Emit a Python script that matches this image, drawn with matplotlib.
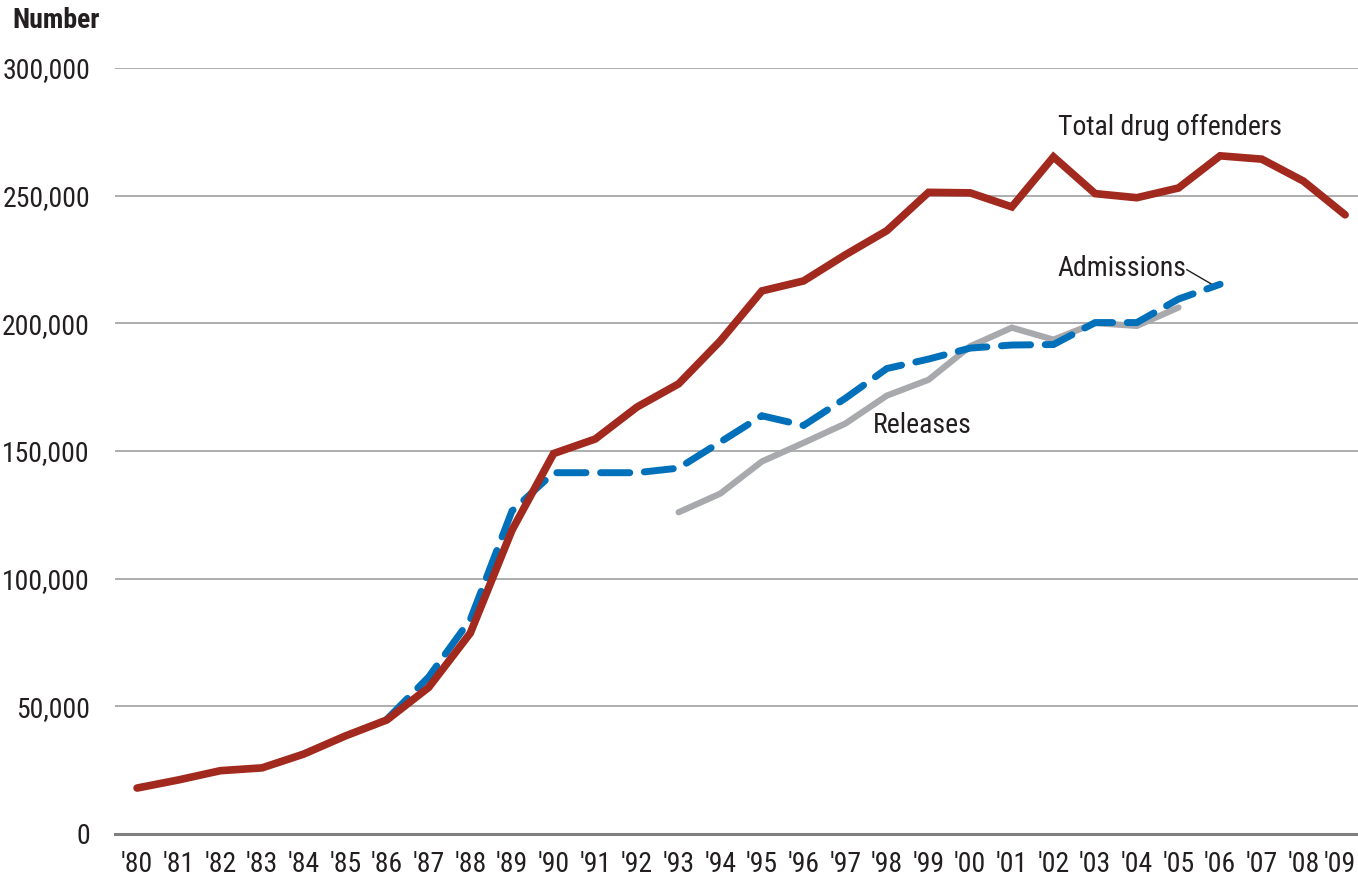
import matplotlib
matplotlib.use("Agg")
import matplotlib.pyplot as plt
import matplotlib.transforms as mtransforms

plt.rcParams["font.family"] = ["Roboto Condensed", "Archivo Narrow", "DejaVu Sans"]

years = list(range(1980, 2010))
year_labels = ["'%02d" % (y % 100) for y in years]

# Total drug offenders, 1980-2009
total = [18000, 21200, 24800, 25900, 31300, 38400, 44700, 57400, 78700, 119000,
         149000, 154700, 167200, 176300, 193100, 212700, 216600, 226800, 236300, 251300,
         251100, 245600, 265200, 250800, 249200, 253000, 265600, 264300, 255700, 242500]

# Admissions, 1986-2006
adm_years = list(range(1986, 2007))
admissions = [45000, 61500, 84000, 126500, 141500, 141500, 141500, 143300, 153500, 163800,
              160000, 170600, 182300, 186000, 190300, 191500, 191700, 200300, 200300, 209500,
              215300]

# Releases, 1993-2005
rel_years = list(range(1993, 2006))
releases = [126000, 133300, 145900, 153200, 160700, 171700, 177900, 191000, 198300, 193600,
            200100, 199000, 206200]

yticks = [0, 50000, 100000, 150000, 200000, 250000, 300000]

RED = "#a2291d"
BLUE = "#0070ba"
GRAY = "#a7a9ac"
TEXT = "#231f20"

fig = plt.figure(figsize=(13.58, 8.83), dpi=100)
ax = fig.add_axes([115 / 1358, 49 / 883, 1 - 115 / 1358, (834 - 68) / 883])

ax.plot(rel_years, releases, color=GRAY, lw=4.5, solid_capstyle="round",
        solid_joinstyle="miter", zorder=3)
ax.plot(adm_years, admissions, color=BLUE, lw=5, dashes=(4.2, 2.1),
        dash_capstyle="round", dash_joinstyle="miter", zorder=4)
ax.plot(years, total, color=RED, lw=5.5, solid_capstyle="round",
        solid_joinstyle="miter", zorder=5)

ax.set_xlim(1979.47, 2009.31)
ax.set_ylim(0, 300000)
ax.set_xticks(years)
ax.set_xticklabels(year_labels)
ax.set_yticks(yticks)
ax.set_yticklabels(["{:,}".format(v) for v in yticks])
ax.tick_params(axis="both", length=0, labelsize=20, colors=TEXT)
ax.tick_params(axis="x", pad=12)
ax.tick_params(axis="y", pad=18)

# keep the last year label inside the figure
last = ax.get_xticklabels()[-1]
last.set_transform(last.get_transform()
                   + mtransforms.ScaledTranslation(-5 / 100, 0, fig.dpi_scale_trans))

ax.grid(axis="y", color="#a0a0a0", lw=1.2, zorder=0)
ax.set_axisbelow(True)
for side in ["top", "right", "left"]:
    ax.spines[side].set_visible(False)
ax.spines["bottom"].set_color("#808080")
ax.spines["bottom"].set_linewidth(2.2)

fig.text(12 / 1358, 1 - 20 / 883, "Number", fontsize=20, fontweight="bold",
         color=TEXT, va="center", ha="left")

ax.text(2002.1, 276800, "Total drug offenders", fontsize=20, color=TEXT,
        ha="left", va="center")
ax.text(2002.1, 221600, "Admissions", fontsize=20, color=TEXT,
        ha="left", va="center")
ax.plot([2005.2, 2005.8], [221000, 215300], color=TEXT, lw=1)
ax.text(1997.67, 160100, "Releases", fontsize=20, color=TEXT,
        ha="left", va="center")

fig.savefig("out.png", dpi=100)
